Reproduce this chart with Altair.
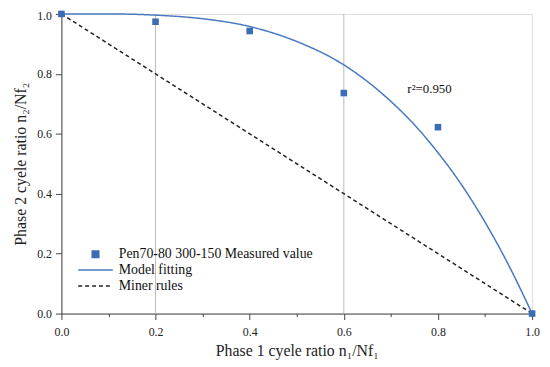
import altair as alt
import pandas as pd

# measured points
meas_x = [0.0, 0.2, 0.4, 0.6, 0.8, 1.0]
meas_y = [1.0, 0.974, 0.943, 0.736, 0.622, 0.0]

# model fitting curve
fit_x = [0.0, 0.1, 0.2, 0.3, 0.4, 0.5, 0.6, 0.7, 0.75, 0.8, 0.85, 0.9, 0.95, 1.0]
fit_y = [1.0, 1.0, 0.996, 0.984, 0.958, 0.908, 0.83, 0.708, 0.63, 0.537, 0.43, 0.305, 0.162, 0.0]

# Miner rule line
miner_x = [0.0, 1.0]
miner_y = [1.0, 0.0]

grid_x = [0.2, 0.6]

series_names = ["Pen70-80 300-150 Measured value", "Model fitting", "Miner rules"]
series_colors = ["#3a6db5", "#4a78c0", "#222222"]

r2_label = ["r²=0.950"]
r2_x = [0.735]
r2_y = [0.75]

meas_df = pd.DataFrame({"x": meas_x, "y": meas_y, "series": series_names[0]})
line_df = pd.concat([
    pd.DataFrame({"x": fit_x, "y": fit_y, "series": series_names[1], "o": range(len(fit_x))}),
    pd.DataFrame({"x": miner_x, "y": miner_y, "series": series_names[2], "o": range(len(miner_x))}),
])
grid_df = pd.DataFrame({"x": grid_x})
r2_df = pd.DataFrame({"x": r2_x, "y": r2_y, "t": r2_label})

serif = "Liberation Serif"

minor_tick = {"condition": {"test": "round(datum.value*10) % 2 == 0", "value": 6}, "value": 3}
label_expr = "round(datum.value*10) % 2 == 0 ? format(datum.value, '.1f') : ''"
ticks = [i / 10 for i in range(11)]

xscale = alt.Scale(domain=[0, 1], nice=False)
yscale = alt.Scale(domain=[0, 1], nice=False)

common = dict(values=ticks, labelExpr=label_expr, grid=False, tickSize=minor_tick,
              titleFont=serif, titleFontSize=16, titleFontWeight="normal", titleColor="#222",
              labelFont=serif, labelFontSize=12, labelColor="#222", domainColor="#444",
              tickColor="#444", labelFlush=False)
xaxis = alt.Axis(title="Phase 1 cyele ratio n₁/Nf₁", titlePadding=5, labelPadding=7, **common)
yaxis = alt.Axis(title="Phase 2 cyele ratio n₂/Nf₂", titlePadding=8, labelPadding=4,
                 labelOffset={"condition": {"test": "datum.value >= 0.99", "value": 2}, "value": 0},
                 **common)

square_path = "M-0.19,-0.19H0.19V0.19H-0.19Z"
line_path = "M-1,0H1"

leg = dict(title=None, orient="none", legendX=16, legendY=235, labelFont=serif,
           labelFontSize=14, labelColor="#111", labelLimit=0, symbolSize=1225,
           symbolStrokeWidth=1.5, rowPadding=0, clipHeight=16, padding=0, labelOffset=5)
color = alt.Color("series:N", scale=alt.Scale(domain=series_names, range=series_colors),
                  legend=alt.Legend(**leg))
shape = alt.Shape("series:N", scale=alt.Scale(domain=series_names,
                                              range=[square_path, line_path, line_path]),
                  legend=alt.Legend(**leg))
dash = alt.StrokeDash("series:N", scale=alt.Scale(domain=series_names, range=[[1, 0], [1, 0], [4, 3]]),
                      legend=alt.Legend(**leg))

grid = alt.Chart(grid_df).mark_rule(color="#bbbbbb", strokeWidth=1).encode(
    x=alt.X("x:Q", scale=xscale, axis=xaxis))

lines = alt.Chart(line_df).mark_line(strokeWidth=1.5, interpolate="monotone").encode(
    x=alt.X("x:Q", scale=xscale, axis=xaxis),
    y=alt.Y("y:Q", scale=yscale, axis=yaxis),
    color=color, strokeDash=dash, order="o:Q")

points = alt.Chart(meas_df).mark_point(filled=True, size=1225, opacity=1, strokeWidth=0).encode(
    x=alt.X("x:Q", scale=xscale, axis=xaxis),
    y=alt.Y("y:Q", scale=yscale, axis=yaxis),
    color=color, shape=shape)

r2 = alt.Chart(r2_df).mark_text(align="left", baseline="middle", font=serif, fontSize=13,
                                color="#111").encode(
    x=alt.X("x:Q", scale=xscale), y=alt.Y("y:Q", scale=yscale), text="t:N")

chart = alt.layer(grid, lines, points, r2).properties(
    width=476, height=303,
    autosize=alt.AutoSizeParams(type="none"),
    padding={"left": 54, "top": 4, "right": 10, "bottom": 50},
).configure_view(stroke="#444", strokeWidth=1.2).configure(background="white", font=serif)

chart.save("out.html", embed_options={"renderer": "svg", "actions": False})
